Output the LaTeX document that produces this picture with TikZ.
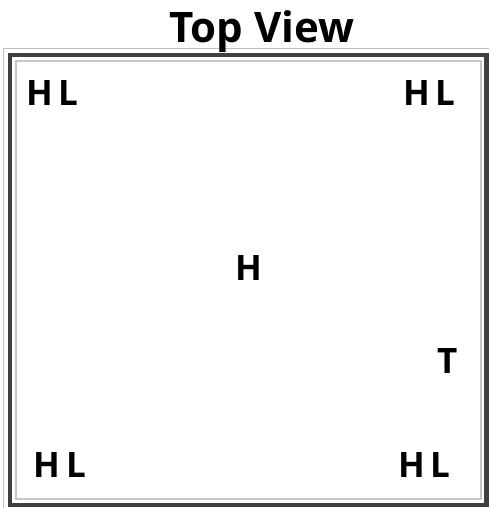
\documentclass[tikz,border=0pt]{standalone}
\usepackage{fontspec}
\setmainfont{Open Sans}
\begin{document}
\begin{tikzpicture}[x=1pt,y=-1pt,
  lbl/.style={font=\fontsize{35}{35}\selectfont\bfseries, inner sep=0pt, anchor=base west, text=black},
  ttl/.style={font=\fontsize{42}{42}\selectfont\bfseries, inner sep=0pt, anchor=base, text=black}]
\useasboundingbox[fill=white] (0,0) rectangle (489,508);
\draw[gray!50, line width=1.5] (3.5,48.5) rectangle (495,515);
\draw[black!75, line width=4.5] (10,55) rectangle (486.5,505);
\draw[gray!45, line width=1.5] (16,61) rectangle (481,499);
\node[ttl] (title) at (262,43) {Top View};
\node[lbl] (h1) at (26,106) {H};
\node[lbl] (l1) at (58,106) {L};
\node[lbl] (h2) at (403,106) {H};
\node[lbl] (l2) at (435,106) {L};
\node[lbl] (h3) at (235,280) {H};
\node[lbl] (t1) at (437,373) {T};
\node[lbl] (h4) at (33,477) {H};
\node[lbl] (l4) at (66,477) {L};
\node[lbl] (h5) at (398,477) {H};
\node[lbl] (l5) at (430,477) {L};
\end{tikzpicture}
\end{document}
